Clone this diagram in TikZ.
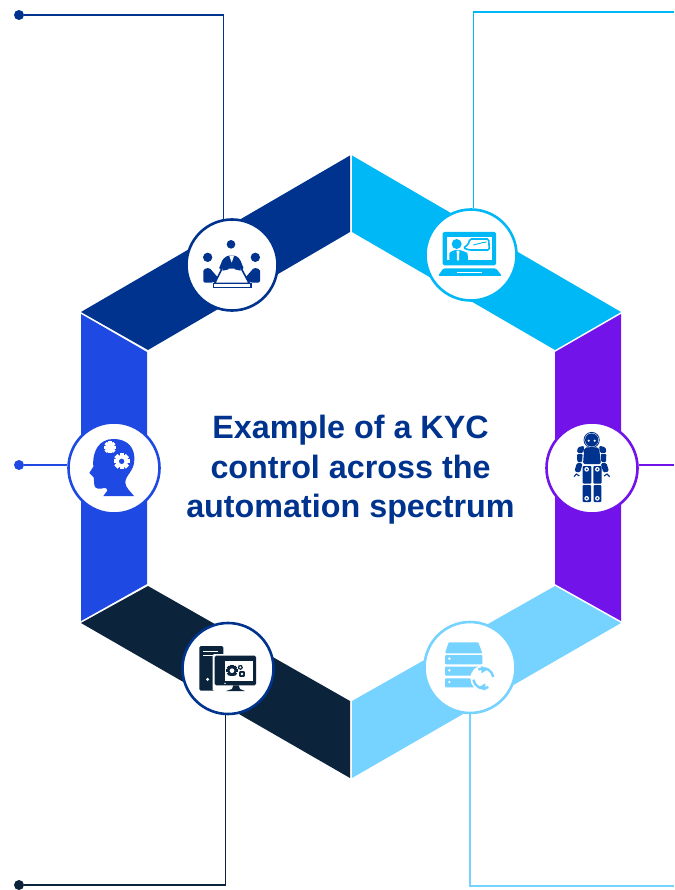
\documentclass[tikz,border=0pt]{standalone}
\usepackage{fontspec}
\setmainfont{Liberation Sans}
\definecolor{cNavy}{HTML}{00338D}
\definecolor{cCyan}{HTML}{00B8F5}
\definecolor{cPurple}{HTML}{7213EA}
\definecolor{cBlue}{HTML}{1E49E2}
\definecolor{cDark}{HTML}{0C233C}
\definecolor{cPale}{HTML}{76D2FF}
\tikzset{
  ring/.style={circle,draw=#1,line width=2.6pt,fill=white,minimum size=91pt,inner sep=0pt},
  wire/.style={draw=#1,line width=1.1pt},
  enddot/.style={circle,fill=#1,inner sep=0pt,minimum size=10pt},
  title/.style={text=cNavy,font=\bfseries\fontsize{32.3}{39.5}\selectfont,align=center}
}
% gear: x y radius colour hole colour hole radius
\newcommand{\mygear}[6]{%
  \foreach \a in {0,45,...,315}{\fill[#4,rotate around={\a:(#1,#2)}] (#1-#3*0.27,#2-#3) rectangle (#1+#3*0.27,#2+#3);}
  \fill[#4] (#1,#2) circle[radius=#3*0.78];
  \fill[#5] (#1,#2) circle[radius=#6];
}
\begin{document}
\begin{tikzpicture}[x=1pt,y=-1pt]
\useasboundingbox (0,0) rectangle (674,890);
% hexagon bands
\fill[cNavy] (350,155.5)--(350,232)--(148,350)--(81,312)--cycle;
\fill[cCyan] (352,155.5)--(621,312)--(555,350)--(352,232)--cycle;
\fill[cPurple] (555,352)--(621,314)--(621,621)--(555,584)--cycle;
\fill[cPale] (621,623)--(352,778)--(352,701)--(555,586)--cycle;
\fill[cDark] (148,586)--(350,701)--(350,778)--(81,623)--cycle;
\fill[cBlue] (81,314)--(147,352)--(147,584)--(81,621)--cycle;
% rings
\node[ring=cNavy] (tl) at (232,265) {};
\node[ring=cCyan] (tr) at (471,255) {};
\node[ring=cPurple] (rt) at (592,468) {};
\node[ring=cBlue] (lf) at (114,468) {};
\node[ring=cNavy] (bl) at (228,668.5) {};
\node[ring=cPale] (br) at (470,667.5) {};
% connectors
\node[enddot=cNavy] (dtl) at (19,15) {};
\node[enddot=cBlue] (dlf) at (19,465) {};
\node[enddot=cDark] (dbl) at (19,885) {};
\coordinate (etr) at (674,12);
\coordinate (ert) at (674,465);
\coordinate (ebr) at (674,886);
\draw[wire=cNavy] (dtl) -| (tl.101);
\draw[wire=cCyan] (etr) -| (tr.87.5);
\draw[wire=cPurple] (ert -| rt.3.7) -- (ert);
\draw[wire=cBlue] (dlf) -- (dlf -| lf.176.3);
\draw[wire=cDark] (dbl) -| (bl.267.5);
\draw[wire=cPale] (ebr) -| (br.south);
% title
\node[title] (ttl) at (350.5,470) {Example of a KYC\\control across the\\automation spectrum};
% meeting icon
\begin{scope}[shift={(170,200)},scale=1/3]
  \fill[cNavy] (183,133) circle[radius=13];
  \fill[cNavy] (113,172) circle[radius=14];
  \fill[cNavy] (256,172) circle[radius=14];
  \fill[cNavy,rounded corners=1.5pt] (100,248)--(100,208)--(118,203)--(150,240)--(126,248)--cycle;
  \fill[cNavy,rounded corners=1.5pt] (270,248)--(270,208)--(252,203)--(220,240)--(244,248)--cycle;
  \fill[cNavy,rounded corners=1.5pt] (146,208)--(158,178)--(172,167)--(198,167)--(210,178)--(222,208)--cycle;
  \fill[white] (178,168)--(192,168)--(185,188)--cycle;
  \fill[white] (158,206)--(212,206)--(232,244)--(138,244)--cycle;
  \fill[cNavy] (158,198)--(176,192)--(176,208)--(158,212)--cycle;
  \fill[cNavy] (212,198)--(194,192)--(194,208)--(212,212)--cycle;
  \draw[cNavy,line width=1.6pt] (156,206)--(134,250)--(238,250)--(214,206);
  \draw[cNavy,line width=1.6pt,fill=white] (130,250) rectangle (243,263);
\end{scope}
% laptop icon
\begin{scope}[shift={(410,200)},scale=1/3]
  \fill[cCyan,rounded corners=1.5pt] (98,96) rectangle (258,196);
  \fill[white] (112,111) rectangle (245,181);
  \fill[cCyan] (140,132) circle[radius=15];
  \fill[cCyan,rounded corners=1pt] (118,181)--(118,158)--(134,150)--(150,150)--(172,158)--(175,181)--cycle;
  \fill[white] (140,152)--(148,152)--(147,181)--(141,181)--cycle;
  \draw[cCyan,line width=1.6pt,fill=white,rounded corners=1.5pt] (180,117)--(236,117)--(238,150)--(178,150)--(160,144)--(174,134)--cycle;
  \draw[cCyan,line width=.9pt] (190,135)--(218,128)--(230,126);
  \fill[cCyan,rounded corners=1.5pt] (84,228)--(100,205)--(258,205)--(276,228)--cycle;
  \fill[white] (140,216) rectangle (215,220);
\end{scope}
% robot icon
\begin{scope}[shift={(535,410)},scale=1/3]
  \draw[cNavy,line width=.8pt] (170,90) circle[radius=23];
  \fill[cNavy] (170,90) circle[radius=20];
  \fill[white] (161,92) circle[radius=3.5];
  \fill[white] (179,92) circle[radius=3.5];
  \fill[cNavy,rounded corners=2pt] (148,112)--(192,112)--(198,162)--(144,162)--cycle;
  \fill[cNavy,rounded corners=1.5pt] (128,112)--(148,107)--(145,129)--(126,129)--cycle;
  \fill[cNavy,rounded corners=1.5pt] (212,112)--(192,107)--(195,129)--(214,129)--cycle;
  \fill[cNavy,rounded corners=1pt] (126,132)--(143,132)--(141,156)--(127,156)--cycle;
  \fill[cNavy,rounded corners=1pt] (214,132)--(197,132)--(199,156)--(213,156)--cycle;
  \fill[cNavy,rounded corners=1.5pt] (126,158)--(143,160)--(135,188)--(118,184)--cycle;
  \fill[cNavy,rounded corners=1.5pt] (214,158)--(197,160)--(205,188)--(222,184)--cycle;
  \draw[cNavy,line width=1.1pt] (117,200)--(124,192)--(133,198);
  \draw[cNavy,line width=1.1pt] (224,200)--(216,192)--(207,198);
  \fill[cNavy,rounded corners=1pt] (143,168) rectangle (169,221);
  \fill[cNavy,rounded corners=1pt] (175,168) rectangle (200,221);
  \fill[cNavy,rounded corners=1pt] (143,225) rectangle (168,276);
  \fill[cNavy,rounded corners=1pt] (176,225) rectangle (199,276);
  \foreach \p in {(155,178),(187,178),(155,265),(187,265)}{\fill[white] \p circle[radius=7];\fill[cNavy] \p circle[radius=3];}
\end{scope}
% head icon
\begin{scope}[shift={(0,410)},scale=1/3]
  \fill[cBlue] (310,258)--(322,242) .. controls (322,236) and (318,232) .. (312,234)
    .. controls (300,238) and (286,238) .. (283,226)
    .. controls (280,216) and (284,208) .. (281,202)
    -- (268,189) -- (280,170)
    .. controls (276,120) and (300,87) .. (340,87)
    .. controls (385,87) and (405,115) .. (403,150)
    .. controls (402,185) and (376,195) .. (376,218)
    .. controls (376,232) and (392,245) .. (402,258) -- cycle;
  \mygear{330}{112}{18}{white}{white}{1}
  \mygear{365}{154}{24}{white}{cBlue}{8}
\end{scope}
% computer icon
\begin{scope}[shift={(170,610)},scale=1/3]
  \fill[cDark,rounded corners=1.5pt] (88,108) rectangle (160,242);
  \draw[white,line width=.9pt] (100,123)--(145,123) (100,136)--(135,136);
  \fill[white] (113,208) circle[radius=5];
  \fill[white,rounded corners=1.5pt] (128,132) rectangle (262,243);
  \fill[cDark,rounded corners=1.5pt] (134,137) rectangle (258,226);
  \fill[white] (165,152) rectangle (248,212);
  \fill[white] (165,220) circle[radius=2.5];
  \fill[cDark] (190,226)--(206,226)--(210,237)--(225,243)--(168,243)--(186,237)--cycle;
  \mygear{186}{182}{17}{cDark}{white}{7}
  \mygear{216}{192}{10}{cDark}{white}{4}
  \mygear{211}{172}{7}{cDark}{white}{3.5}
\end{scope}
% server icon
\begin{scope}[shift={(410,610)},scale=1/3]
  \fill[cPale,rounded corners=1pt] (116,97)--(205,97)--(217,130)--(105,130)--cycle;
  \fill[cPale,rounded corners=1pt] (105,135) rectangle (217,163);
  \fill[cPale,rounded corners=1pt] (105,170) rectangle (217,197);
  \fill[cPale,rounded corners=1pt] (105,205) rectangle (217,232);
  \foreach \y in {146,181,216}{\fill[white] (118,\y) circle[radius=4];}
  \fill[white] (220,205) circle[radius=39];
  \draw[cPale,line width=2.4pt] (220,205) ++(60:30) arc[start angle=60,end angle=172,radius=30];
  \draw[cPale,line width=2.4pt] (220,205) ++(-120:30) arc[start angle=-120,end angle=-8,radius=30];
  \fill[cPale] (214,168)--(234,178)--(214,190)--cycle;
  \fill[cPale] (226,242)--(206,232)--(226,220)--cycle;
\end{scope}
\end{tikzpicture}
\end{document}
